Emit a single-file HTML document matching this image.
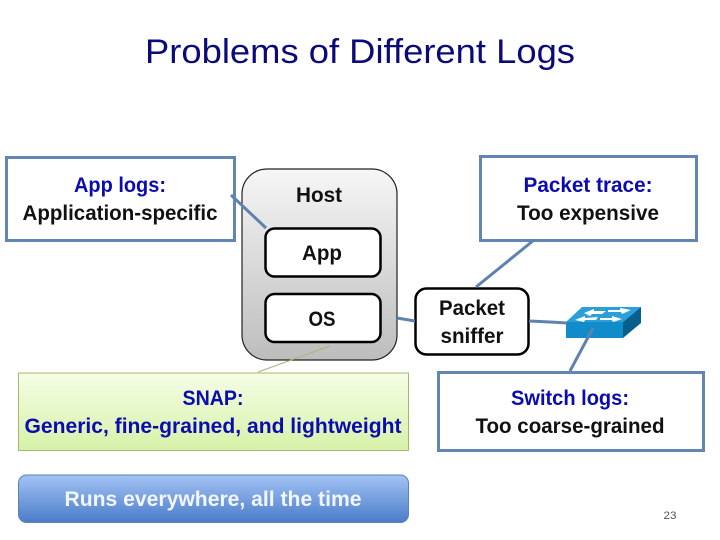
<!DOCTYPE html>
<html><head><meta charset="utf-8"><style>html,body{margin:0;padding:0;background:#fff}svg{display:block}text{font-family:"Liberation Sans",sans-serif;text-anchor:middle;font-size:21px}</style></head><body>
<svg width="720" height="540" viewBox="0 0 720 540" xmlns="http://www.w3.org/2000/svg">
<defs>
<linearGradient id="h" x1="0" y1="0" x2="0" y2="1"><stop offset="0" stop-color="#f6f6f6"/><stop offset="1" stop-color="#bdbdbd"/></linearGradient>
<linearGradient id="g" x1="0" y1="0" x2="0" y2="1"><stop offset="0" stop-color="#f6fde6"/><stop offset="1" stop-color="#d6f2a8"/></linearGradient>
<linearGradient id="b" x1="0" y1="0" x2="0" y2="1"><stop offset="0" stop-color="#a3c3f5"/><stop offset="1" stop-color="#4a7cc8"/></linearGradient>
</defs>
<text x="360" y="63" textLength="430" lengthAdjust="spacingAndGlyphs" style="font-size:34px" fill="#0b0b78">Problems of Different Logs</text>
<rect x="242" y="169" width="155" height="191" rx="25" fill="url(#h)" stroke="#222" stroke-width="1.2"/>
<rect x="6.500" y="157.500" width="228" height="83" fill="#fff" stroke="#6285b2" stroke-width="3"/>
<rect x="480.500" y="156.500" width="216" height="84" fill="#fff" stroke="#6285b2" stroke-width="3"/>
<rect x="438.500" y="372.500" width="265" height="78" fill="#fff" stroke="#6285b2" stroke-width="3"/>
<rect x="265.500" y="228.500" width="115" height="48" rx="9" fill="#fff" stroke="#000" stroke-width="2.500"/>
<rect x="265.500" y="294" width="115" height="48" rx="9" fill="#fff" stroke="#000" stroke-width="2.500"/>
<rect x="415.500" y="288.500" width="113" height="66" rx="11" fill="#fff" stroke="#000" stroke-width="2.500"/>
<rect x="18.500" y="373" width="390" height="77.500" fill="url(#g)" stroke="#a7b56f" stroke-width="1"/>
<rect x="18.500" y="475" width="390" height="47.500" rx="8" fill="url(#b)" stroke="#5f82ae" stroke-width="1"/>
<polygon points="566,322 582,307 641,307 623,322" fill="#2a9fd8"/>
<polygon points="566,322 623,322 623,338 566,338" fill="#108ccb"/>
<polygon points="623,322 641,307 641,323 623,338" fill="#075f8c"/>
<g fill="#fff">
<polygon points="575,320 585,316 585,318 598,317 596,320 585,320 584,322"/>
<polygon points="584,313 594,309 594,311 606,311 602,314 592,314 590,316"/>
<polygon points="600,318 612,318 612,316 622,319 613,322 612,320 600,320"/>
<polygon points="608,310 620,310 620,308 631,310 622,314 621,312 608,312"/>
</g>
<g fill="none" stroke="#5f82ae" stroke-width="3">
<path d="M231 195L266 228"/>
<path d="M397 318L415 321"/>
<path d="M534 240L476 287"/>
<path d="M529 321L550 322L567 323"/>
<path d="M593 328L570 371"/>
</g>
<path d="M330 346L258 372" stroke="#a9b47c" fill="none"/>
<g font-weight="bold">
<text x="120" y="192" fill="#0b0bb0" textLength="92" lengthAdjust="spacingAndGlyphs">App logs:</text>
<text x="120" y="220" fill="#111" textLength="195" lengthAdjust="spacingAndGlyphs">Application-specific</text>
<text x="319" y="202" fill="#111" textLength="46" lengthAdjust="spacingAndGlyphs">Host</text>
<text x="322" y="260" fill="#111" textLength="40" lengthAdjust="spacingAndGlyphs">App</text>
<text x="322" y="326" fill="#111" textLength="27" lengthAdjust="spacingAndGlyphs">OS</text>
<text x="588" y="192" fill="#0b0bb0" textLength="129" lengthAdjust="spacingAndGlyphs">Packet trace:</text>
<text x="588" y="220" fill="#111" textLength="142" lengthAdjust="spacingAndGlyphs">Too expensive</text>
<text x="472" y="315" fill="#111" textLength="66" lengthAdjust="spacingAndGlyphs">Packet</text>
<text x="472" y="343" fill="#111" textLength="63" lengthAdjust="spacingAndGlyphs">sniffer</text>
<text x="570" y="405" fill="#0b0bb0" textLength="118" lengthAdjust="spacingAndGlyphs">Switch logs:</text>
<text x="570" y="433" fill="#111" textLength="189" lengthAdjust="spacingAndGlyphs">Too coarse-grained</text>
<text x="213" y="405" fill="#0b0bb0" textLength="61" lengthAdjust="spacingAndGlyphs">SNAP:</text>
<text x="213" y="433" fill="#0b0bb0" textLength="377" lengthAdjust="spacingAndGlyphs">Generic, fine-grained, and lightweight</text>
<text x="213" y="506" fill="#f2f6ff" textLength="297" lengthAdjust="spacingAndGlyphs">Runs everywhere, all the time</text>
</g>
<text x="670" y="519" style="font-size:11px" fill="#555" textLength="13" lengthAdjust="spacingAndGlyphs">23</text>
</svg>
</body></html>
